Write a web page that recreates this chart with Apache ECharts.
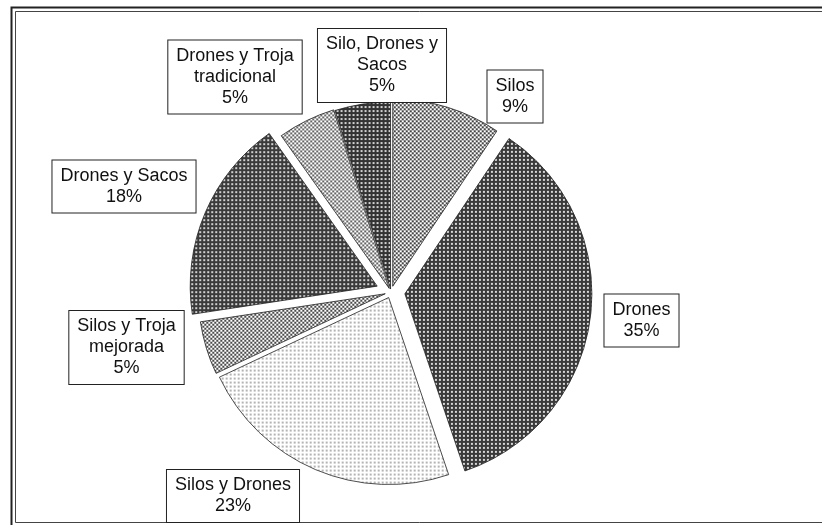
<!DOCTYPE html>
<html>
<head>
<meta charset="utf-8">
<script src="https://cdn.jsdelivr.net/npm/echarts@6/dist/echarts.min.js"></script>
<style>
html,body{margin:0;padding:0;background:#fff;}
#chart{width:822px;height:525px;}
</style>
</head>
<body>
<div id="chart"></div>
<script>
// Data (clockwise from 12 o'clock), shares
var categories = ['Silos', 'Drones', 'Silos y Drones', 'Silos y Troja\nmejorada', 'Drones y Sacos', 'Drones y Troja\ntradicional', 'Silo, Drones y\nSacos'];
var values = [9.4, 35.4, 23.2, 4.6, 17.6, 5.0, 4.8];

// Styling / layout (not data)
var explode = [6, 14, 6, 6, 15, 4, 3];
var labelCenters = [[515, 96.5], [641.5, 320.5], [233, 496], [126.5, 347.5], [124, 186.5], [235, 77], [382, 65.5]];

function makePattern(size, bg, fg, cells) {
  var c = document.createElement('canvas');
  c.width = size; c.height = size;
  var ctx = c.getContext('2d');
  ctx.fillStyle = bg; ctx.fillRect(0, 0, size, size);
  ctx.fillStyle = fg;
  cells.forEach(function (r) { ctx.fillRect(r[0], r[1], r[2], r[3]); });
  return { image: c, repeat: 'repeat' };
}
var checker = [[0, 0, 2, 2], [2, 2, 2, 2]];
var patterns = [
  makePattern(4, '#ffffff', '#444444', checker),            // Silos
  makePattern(4, '#3a3a3a', '#d8d8d8', [[1, 1, 2, 2]]),      // Drones
  makePattern(4, '#ffffff', '#b4b4b4', [[0, 0, 2, 2]]),      // Silos y Drones
  makePattern(4, '#ffffff', '#4a4a4a', checker),            // Silos y Troja mejorada
  makePattern(4, '#3a3a3a', '#d0d0d0', [[1, 1, 2, 2]]),      // Drones y Sacos
  makePattern(4, '#ffffff', '#666666', checker),            // Drones y Troja tradicional
  makePattern(4, '#333333', '#d0d0d0', [[1, 1, 2, 2]])       // Silo, Drones y Sacos
];

var total = values.reduce(function (a, b) { return a + b; }, 0);

var series = categories.map(function (cat, i) {
  return {
    type: 'pie',
    center: [391, 292],
    radius: 187,
    startAngle: 90,
    clockwise: true,
    silent: true,
    selectedMode: 'single',
    selectedOffset: explode[i],
    avoidLabelOverlap: false,
    emphasis: { disabled: true },
    labelLine: { show: false },
    label: { show: false },
    data: values.map(function (v, j) {
      var mine = j === i;
      return {
        name: categories[j],
        value: v,
        selected: mine,
        itemStyle: mine
          ? { color: patterns[j], borderColor: '#222', borderWidth: 0.8 }
          : { color: 'rgba(0,0,0,0)', borderWidth: 0 }
      };
    })
  };
});

var labels = categories.map(function (cat, i) {
  return {
    type: 'text',
    silent: true,
    z: 100,
    x: labelCenters[i][0],
    y: labelCenters[i][1],
    style: {
      text: cat + '\n' + Math.round(values[i] / total * 100) + '%',
      align: 'center',
      verticalAlign: 'middle',
      fontFamily: 'Liberation Sans, Arial, sans-serif',
      fontSize: 18,
      lineHeight: 21,
      fill: '#111',
      backgroundColor: '#fff',
      borderColor: '#222',
      borderWidth: 1,
      padding: [5, 8, 5, 8]
    }
  };
});

var chart = echarts.init(document.getElementById('chart'), null, { renderer: 'canvas' });
chart.setOption({
  backgroundColor: '#fff',
  animation: false,
  graphic: [
    { type: 'rect', silent: true, shape: { x: 11.5, y: 7.5, width: 900, height: 540 }, style: { fill: 'none', stroke: '#222', lineWidth: 2 } },
    { type: 'rect', silent: true, shape: { x: 15.5, y: 11.5, width: 900, height: 511 }, style: { fill: 'none', stroke: '#444', lineWidth: 1 } }
  ].concat(labels),
  series: series
});
</script>
</body>
</html>
